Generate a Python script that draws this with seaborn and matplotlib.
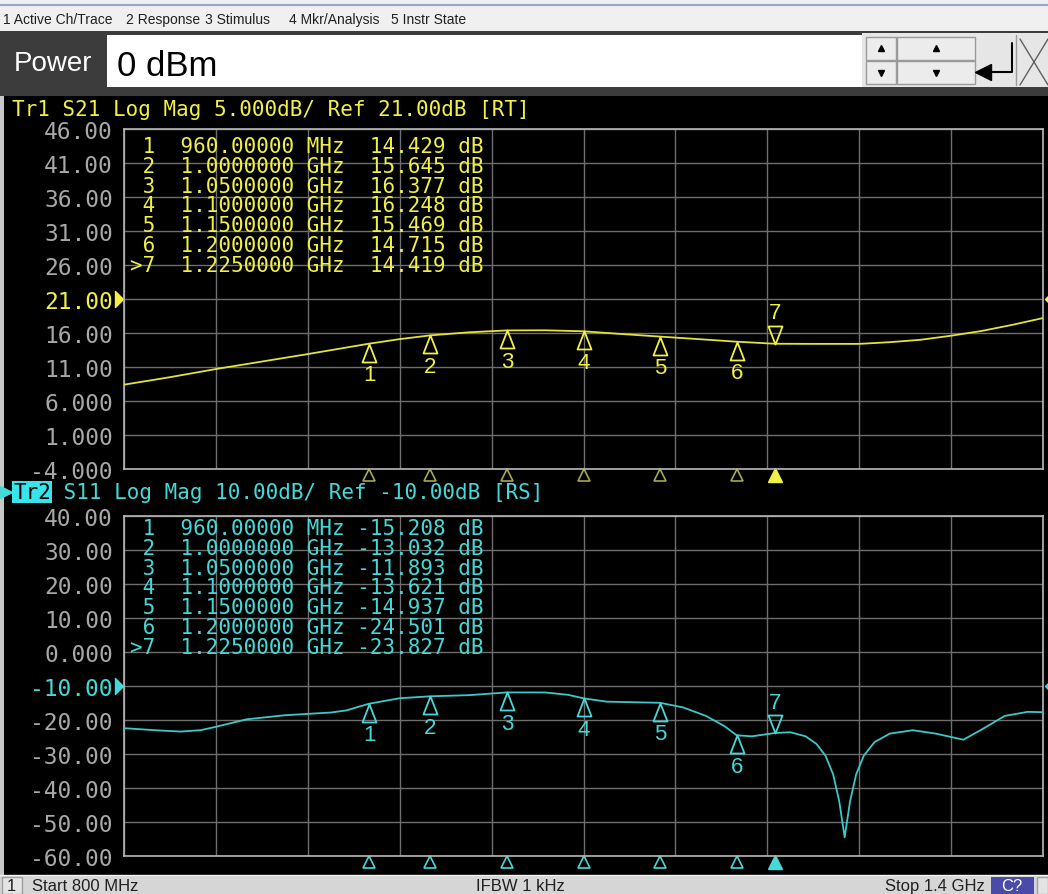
import numpy as np
import pandas as pd
import matplotlib
matplotlib.use("Agg")
import matplotlib.pyplot as plt
import matplotlib.transforms as mtransforms
from matplotlib.patches import Rectangle
from matplotlib.lines import Line2D
from matplotlib.path import Path
import seaborn as sns

# ---- data ----
s21_freq = [0.800, 0.830, 0.860, 0.890, 0.920, 0.960, 0.980, 1.000, 1.025, 1.050, 1.075,
            1.100, 1.125, 1.150, 1.175, 1.200, 1.225, 1.250, 1.280, 1.300, 1.320, 1.340,
            1.360, 1.380, 1.400]
s21_db = [8.4, 9.5, 10.7, 11.8, 12.9, 14.43, 15.1, 15.65, 16.1, 16.38, 16.4,
          16.25, 15.85, 15.47, 15.1, 14.72, 14.42, 14.4, 14.4, 14.65, 15.0, 15.6,
          16.3, 17.2, 18.2]

s11_freq = [0.800, 0.820, 0.837, 0.850, 0.860, 0.880, 0.905, 0.935, 0.945, 0.960, 0.980,
            1.000, 1.025, 1.050, 1.075, 1.090, 1.100, 1.115, 1.135, 1.150, 1.165, 1.180,
            1.192, 1.200, 1.210, 1.225, 1.235, 1.245, 1.252, 1.258, 1.263, 1.267, 1.2705,
            1.274, 1.278, 1.283, 1.290, 1.300, 1.315, 1.330, 1.348, 1.360, 1.375, 1.390,
            1.400]
s11_db = [-22.4, -23.0, -23.4, -23.0, -22.0, -19.8, -18.6, -17.8, -17.2, -15.21, -13.6,
          -13.03, -12.7, -11.89, -11.9, -12.6, -13.62, -14.6, -14.8, -14.94, -16.3, -18.8,
          -21.8, -24.50, -24.8, -23.83, -23.6, -24.8, -27.0, -30.5, -36.0, -44.0, -54.5,
          -44.0, -36.0, -30.5, -26.5, -24.0, -23.0, -24.0, -25.8, -22.8, -18.8, -17.6,
          -17.7]

marker_freq = [0.960, 1.000, 1.050, 1.100, 1.150, 1.200, 1.225]
marker_s21 = [14.429, 15.645, 16.377, 16.248, 15.469, 14.715, 14.419]
marker_s11 = [-15.208, -13.032, -11.893, -13.621, -14.937, -24.501, -23.827]

top_ticks = [-4, 1, 6, 11, 16, 21, 26, 31, 36, 41, 46]
bot_ticks = [-60, -50, -40, -30, -20, -10, 0, 10, 20, 30, 40]
freq_grid = [0.80, 0.86, 0.92, 0.98, 1.04, 1.10, 1.16, 1.22, 1.28, 1.34, 1.40]

menu_items = ["1 Active Ch/Trace", "2 Response", "3 Stimulus", "4 Mkr/Analysis", "5 Instr State"]
menu_x = [3, 126, 205, 289, 391]

W, H = 1048, 895
YELLOW = "#e2e23a"
YELLOW_TXT = "#f0f046"
YELLOW_DIM = "#a8a84a"
CYAN = "#3cc8c8"
CYAN_TXT = "#46d8d8"
MONO = ["DejaVu Sans Mono", "DejaVu Sans"]
SANS = ["Liberation Sans", "DejaVu Sans"]

sns.set_theme(style="dark")
plt.rcParams["font.family"] = MONO

fig = plt.figure(figsize=(W / 100, H / 100), dpi=100, facecolor="black")


def fx(x):
    return x / W


def fy(y):
    return 1 - y / H


def box(x0, y0, x1, y1, fc, ec="none", lw=0, z=0):
    fig.add_artist(Rectangle((fx(x0), fy(y1)), (x1 - x0) / W, (y1 - y0) / H,
                             transform=fig.transFigure, facecolor=fc, edgecolor=ec,
                             linewidth=lw, zorder=z))


def line(xs, ys, color, lw=1.0, z=2):
    fig.add_artist(Line2D([fx(v) for v in xs], [fy(v) for v in ys], color=color, lw=lw,
                          transform=fig.transFigure, zorder=z))


def txt(x, y, s, **kw):
    fig.text(fx(x), fy(y), s, **kw)


def fmt_tick(v):
    if v == 0:
        return "0.000"
    dec = max(0, 3 - int(np.floor(np.log10(abs(v)))))
    return f"{v:.{dec}f}"


def fmt_row(i, f, v, active):
    prefix = ">" if active else " "
    fstr = f"{f * 1000:.5f} MHz" if f < 1 else f"{f:.7f} GHz"
    return f"{prefix}{i + 1}  {fstr} {v:7.3f} dB"


# ---- window chrome ----
box(0, 0, W, 32, "#f0f0f0")
line([0, W], [6, 6], "#9aa6c8", lw=1.5)
for s, x in zip(menu_items, menu_x):
    txt(x, 20, s, fontsize=10, family=SANS, color="#202020", va="center")

box(0, 32, W, 97, "#3c3c3c")
box(107, 36, 862, 88, "white")
box(862, 34, W, 88, "#e6e6e6")
for x0, x1 in [(866, 896), (897, 975)]:
    box(x0, 38, x1, 61, "#ececec", ec="#9a9a9a", lw=1)
    box(x0, 62, x1, 85, "#ececec", ec="#9a9a9a", lw=1)
    fig.add_artist(Line2D([fx((x0 + x1) / 2)], [fy(49)], marker="^", ms=5, color="black",
                          transform=fig.transFigure))
    fig.add_artist(Line2D([fx((x0 + x1) / 2)], [fy(74)], marker="v", ms=5, color="black",
                          transform=fig.transFigure))
line([1012, 1012, 986], [44, 73, 73], "black", lw=1.5)
fig.add_artist(Line2D([fx(983)], [fy(73)], marker="<", ms=11, color="black",
                      transform=fig.transFigure))
line([1016, 1016], [36, 86], "#9a9a9a")
line([1020, W], [40, 86], "#606060", lw=1)
line([1020, W], [86, 40], "#606060", lw=1)
txt(14, 64, "Power", fontsize=20, family=SANS, color="white", va="center")
txt(117, 66, "0 dBm", fontsize=25, family=SANS, color="black", va="center")

box(0, 97, 4, 876, "#c8c8c8")
box(0, 876, W, H, "#d6d6d6")
line([0, W], [876, 876], "#f4f4f4", lw=1)
box(2, 878, 22, H, "#e4e4e4", ec="#a0a0a0", lw=1)
txt(7, 887, "1", fontsize=12, family=SANS, color="#202020", va="center")
txt(32, 887, "Start 800 MHz", fontsize=12, family=SANS, color="#202020", va="center")
txt(520, 887, "IFBW 1 kHz", fontsize=12, family=SANS, color="#202020", va="center",
    ha="center")
txt(985, 887, "Stop 1.4 GHz", fontsize=12, family=SANS, color="#202020", va="center",
    ha="right")
box(991, 878, 1034, H, "#4a4aa8")
txt(1012, 887, "C?", fontsize=12, family=SANS, color="white", va="center", ha="center")
box(1037, 878, W, H, "#e4e4e4", ec="#a0a0a0", lw=1)

# ---- trace headers ----
txt(12, 110, "Tr1 S21 Log Mag 5.000dB/ Ref 21.00dB [RT]", fontsize=15, color=YELLOW_TXT,
    va="center")
fig.add_artist(Line2D([fx(6)], [fy(493)], marker=">", ms=8, color=CYAN_TXT,
                      transform=fig.transFigure))
txt(13, 493, "Tr2", fontsize=15, color="black", va="center",
    bbox=dict(boxstyle="square,pad=0.05", fc="#38e4ec", ec="none"))
txt(13 + 3 * 12.54, 493, " S11 Log Mag 10.00dB/ Ref -10.00dB [RS]", fontsize=15,
    color=CYAN_TXT, va="center")

# marker glyph shapes (pixel units, apex at the marker point)
PX2PT = 0.72
up_path = Path([(0, 0), (-7, -18), (7, -18), (0, 0)],
               [Path.MOVETO, Path.LINETO, Path.LINETO, Path.CLOSEPOLY])
down_path = Path([(0, 0), (-7, 18), (7, 18), (0, 0)],
                 [Path.MOVETO, Path.LINETO, Path.LINETO, Path.CLOSEPOLY])
ref_path = Path([(0, 0), (-8, 8), (-8, -8), (0, 0)],
                [Path.MOVETO, Path.LINETO, Path.LINETO, Path.CLOSEPOLY])
ref_path_r = Path([(0, 0), (8, 8), (8, -8), (0, 0)],
                  [Path.MOVETO, Path.LINETO, Path.LINETO, Path.CLOSEPOLY])


def draw_panel(ax, freq, db, mk_db, ticks, ref, color, text_color, dim_color,
               table_y0, axis_px):
    ax.set_facecolor("black")
    ax.set_axisbelow(True)
    df = pd.DataFrame({"freq": freq, "db": db})
    sns.lineplot(data=df, x="freq", y="db", ax=ax, color=color, lw=1.3, legend=False,
                 zorder=3)
    ax.set_xlim(freq_grid[0], freq_grid[-1])
    ax.set_ylim(ticks[0], ticks[-1])
    ax.set_xticks(freq_grid)
    ax.set_xticklabels([])
    ax.set_yticks(ticks)
    ax.set_yticklabels([fmt_tick(v) for v in ticks])
    ax.tick_params(length=0, pad=8, labelsize=16.5, labelcolor="#a8a8a8")
    for lab, v in zip(ax.get_yticklabels(), ticks):
        if v == ref:
            lab.set_color(text_color)
    ax.grid(True, color="#6e6e6e", lw=1)
    for sp in ax.spines.values():
        sp.set_color("#b8b8b8")
        sp.set_linewidth(1.2)
    ax.set_xlabel("")
    ax.set_ylabel("")

    n = len(marker_freq)
    # marker glyphs on the trace
    ax.plot(marker_freq[:-1], mk_db[:-1], ls="none", marker=up_path, ms=2 * 18 * PX2PT,
            mfc="none", mec=text_color, mew=1.3, zorder=4)
    ax.plot(marker_freq[-1:], mk_db[-1:], ls="none", marker=down_path, ms=2 * 18 * PX2PT,
            mfc="none", mec=text_color, mew=1.3, zorder=4)
    for i, (f, v) in enumerate(zip(marker_freq, mk_db)):
        dy = 31 if i == n - 1 else -31
        ax.annotate(str(i + 1), (f, v), xytext=(0, dy * PX2PT), textcoords="offset points",
                    ha="center", va="center", color=text_color, fontsize=16,
                    family=SANS, zorder=5)

    # marker indicators under the graticule
    blend = mtransforms.blended_transform_factory(ax.transData, ax.transAxes)
    below = -6 / axis_px
    ax.plot(marker_freq[:-1], [below] * (n - 1), ls="none", marker="^", ms=9,
            mfc="none", mec=dim_color, mew=1.2, transform=blend, clip_on=False)
    ax.plot(marker_freq[-1:], [below], ls="none", marker="^", ms=10, mfc=text_color,
            mec=text_color, transform=blend, clip_on=False)

    # reference level arrows
    rblend = mtransforms.blended_transform_factory(ax.transAxes, ax.transData)
    ax.plot([-1 / 919], [ref], ls="none", marker=ref_path, ms=2 * 8 * PX2PT,
            color=text_color, transform=rblend, clip_on=False)
    ax.plot([1 + 2 / 919], [ref], ls="none", marker=ref_path_r, ms=2 * 8 * PX2PT,
            color=text_color, transform=rblend, clip_on=False)

    # marker table
    for i, (f, v) in enumerate(zip(marker_freq, mk_db)):
        txt(130.5, table_y0 + i * 19.8, fmt_row(i, f, v, i == n - 1), fontsize=15,
            color=text_color, va="center")


ax_top = fig.add_axes([fx(124), fy(470), 919 / W, 340 / H])
ax_bot = fig.add_axes([fx(124), fy(857), 919 / W, 340 / H])

draw_panel(ax_top, s21_freq, s21_db, marker_s21, top_ticks, 21, YELLOW, YELLOW_TXT,
           YELLOW_DIM, 147, 340)
draw_panel(ax_bot, s11_freq, s11_db, marker_s11, bot_ticks, -10, CYAN, CYAN_TXT,
           CYAN_TXT, 529, 340)

fig.savefig("out.png", dpi=100, facecolor="black")
